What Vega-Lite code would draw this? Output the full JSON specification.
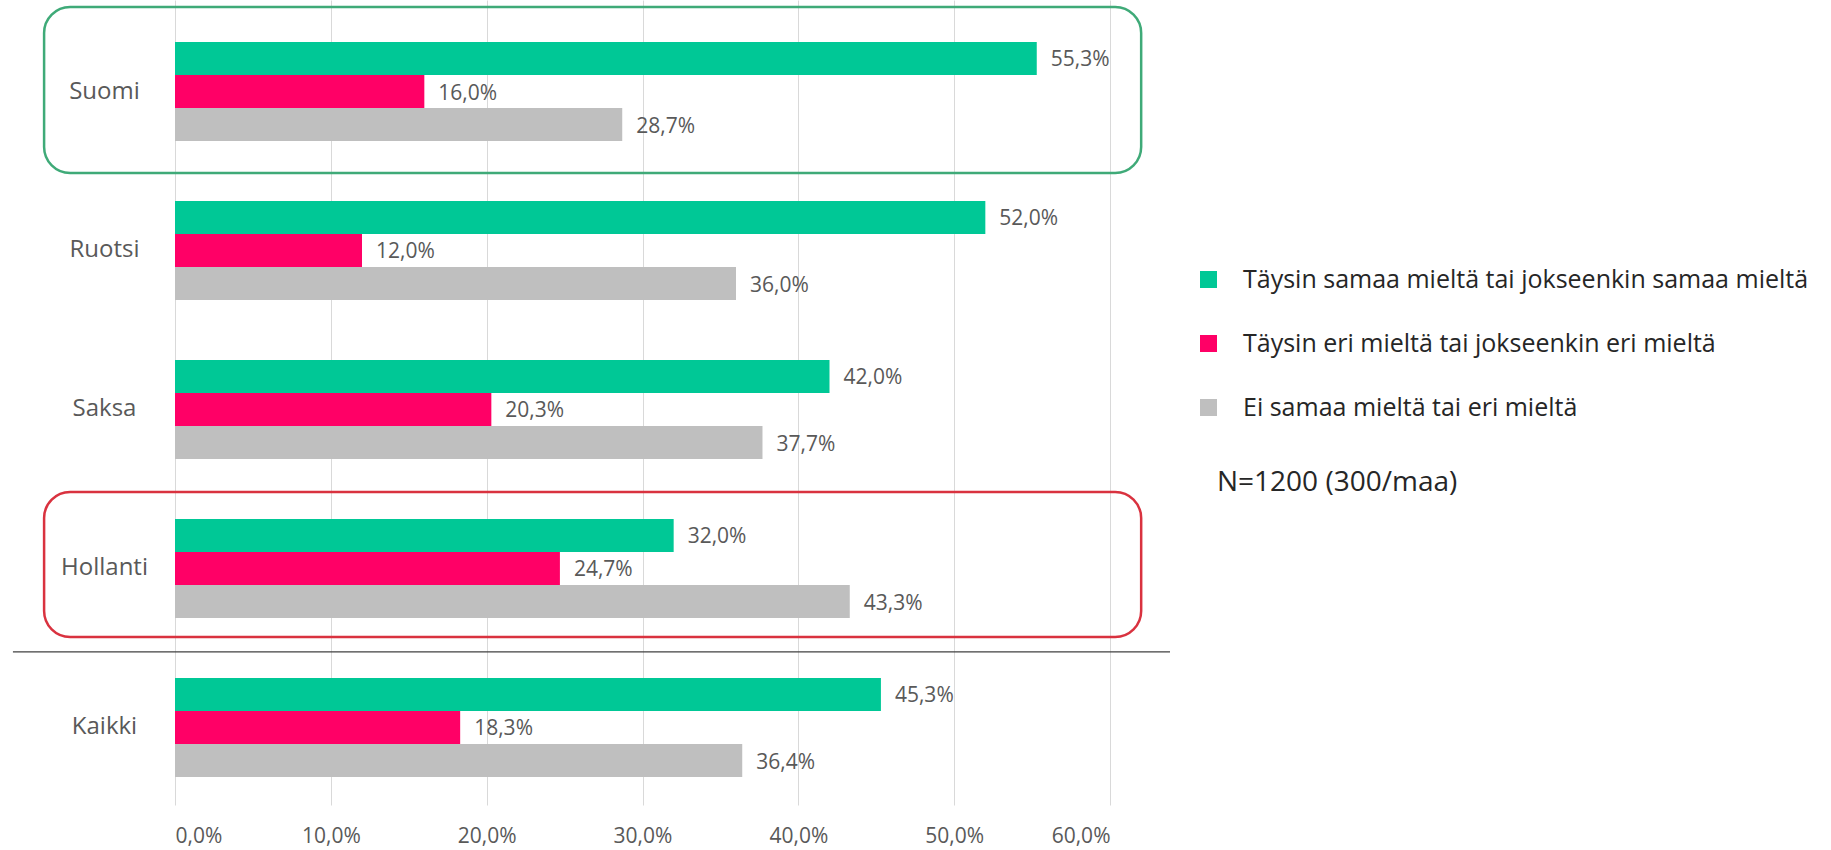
{
  "$schema": "https://vega.github.io/schema/vega-lite/v6.json",
  "autosize": {"type": "none"},
  "width": 935,
  "height": 805,
  "padding": {"left": 175, "top": 0, "right": 721, "bottom": 45},
  "background": "white",
  "config": {
    "font": "Open Sans",
    "view": {"stroke": null},
    "locale": {
      "number": {"decimal": ",", "thousands": " ", "grouping": [3], "currency": ["", " €"], "percent": "%"}
    }
  },
  "datasets": {
    "tulokset": [
      {"maa": "Suomi", "sarja": "Täysin samaa mieltä tai jokseenkin samaa mieltä", "osuus": 0.553},
      {"maa": "Suomi", "sarja": "Täysin eri mieltä tai jokseenkin eri mieltä", "osuus": 0.160},
      {"maa": "Suomi", "sarja": "Ei samaa mieltä tai eri mieltä", "osuus": 0.287},
      {"maa": "Ruotsi", "sarja": "Täysin samaa mieltä tai jokseenkin samaa mieltä", "osuus": 0.520},
      {"maa": "Ruotsi", "sarja": "Täysin eri mieltä tai jokseenkin eri mieltä", "osuus": 0.120},
      {"maa": "Ruotsi", "sarja": "Ei samaa mieltä tai eri mieltä", "osuus": 0.360},
      {"maa": "Saksa", "sarja": "Täysin samaa mieltä tai jokseenkin samaa mieltä", "osuus": 0.420},
      {"maa": "Saksa", "sarja": "Täysin eri mieltä tai jokseenkin eri mieltä", "osuus": 0.203},
      {"maa": "Saksa", "sarja": "Ei samaa mieltä tai eri mieltä", "osuus": 0.377},
      {"maa": "Hollanti", "sarja": "Täysin samaa mieltä tai jokseenkin samaa mieltä", "osuus": 0.320},
      {"maa": "Hollanti", "sarja": "Täysin eri mieltä tai jokseenkin eri mieltä", "osuus": 0.247},
      {"maa": "Hollanti", "sarja": "Ei samaa mieltä tai eri mieltä", "osuus": 0.433},
      {"maa": "Kaikki", "sarja": "Täysin samaa mieltä tai jokseenkin samaa mieltä", "osuus": 0.453},
      {"maa": "Kaikki", "sarja": "Täysin eri mieltä tai jokseenkin eri mieltä", "osuus": 0.183},
      {"maa": "Kaikki", "sarja": "Ei samaa mieltä tai eri mieltä", "osuus": 0.364}
    ]
  },
  "encoding": {
    "y": {
      "field": "maa",
      "type": "nominal",
      "scale": {"domain": ["Suomi", "Ruotsi", "Saksa", "Hollanti", "Kaikki"], "paddingInner": 0.377, "paddingOuter": 0.22, "align": 0.6},
      "axis": {"title": null, "domain": false, "ticks": false, "labelAlign": "center", "labelPadding": 71, "labelFontSize": 24, "labelColor": "#595959", "labelFont": "Open Sans"}
    }
  },
  "layer": [
    {
      "data": {"name": "tulokset"},
      "mark": {"type": "bar"},
      "encoding": {
        "x": {
          "field": "osuus",
          "type": "quantitative",
          "scale": {"domain": [0, 0.6], "nice": false, "zero": true},
          "axis": {"title": null, "values": [0, 0.1, 0.2, 0.3, 0.4, 0.5, 0.6], "format": ".1%", "grid": true, "gridColor": "#D9D9D9", "gridWidth": 1, "domain": false, "ticks": false, "labelPadding": 20, "labelFontSize": 21, "labelColor": "#595959", "labelFont": "Open Sans"}
        },
        "yOffset": {
          "field": "sarja",
          "type": "nominal",
          "scale": {"domain": ["Täysin samaa mieltä tai jokseenkin samaa mieltä", "Täysin eri mieltä tai jokseenkin eri mieltä", "Ei samaa mieltä tai eri mieltä"], "paddingInner": 0, "paddingOuter": 0}
        },
        "color": {
          "field": "sarja",
          "type": "nominal",
          "scale": {"domain": ["Täysin samaa mieltä tai jokseenkin samaa mieltä", "Täysin eri mieltä tai jokseenkin eri mieltä", "Ei samaa mieltä tai eri mieltä"], "range": ["#00C896", "#FF0066", "#BFBFBF"]},
          "legend": {
            "orient": "none",
            "legendX": 1042,
            "legendY": 267,
            "padding": 0,
            "symbolType": "square",
            "symbolSize": 289,
            "symbolStrokeWidth": 0,
            "symbolOffset": -21,
            "labelFontSize": 25,
            "labelColor": "#262626",
            "labelFont": "Open Sans",
            "labelOffset": 22,
            "labelLimit": 800,
            "rowPadding": 38,
            "title": "N=1200 (300/maa)",
            "titleOrient": "bottom",
            "titleAnchor": "start",
            "titlePadding": 48,
            "titleFontSize": 28,
            "titleFontWeight": "normal",
            "titleColor": "#262626",
            "titleFont": "Open Sans",
            "titleLimit": 800
          }
        }
      }
    },
    {
      "data": {"name": "tulokset"},
      "mark": {"type": "text", "align": "left", "baseline": "middle", "dx": 14, "dy": 2, "fontSize": 21, "color": "#595959", "font": "Open Sans"},
      "encoding": {
        "x": {"field": "osuus", "type": "quantitative"},
        "yOffset": {"field": "sarja", "type": "nominal"},
        "text": {"field": "osuus", "type": "quantitative", "format": ".1%"}
      }
    },
    {
      "data": {"values": [{"maa": "Suomi", "alku": -0.084, "loppu": 0.62}]},
      "mark": {"type": "bar", "height": {"band": 1.675}, "yOffset": -1.5, "fill": "transparent", "stroke": "#3FAA78", "strokeWidth": 2.5, "cornerRadius": 26, "clip": false},
      "encoding": {
        "x": {"field": "alku", "type": "quantitative"},
        "x2": {"field": "loppu"}
      }
    },
    {
      "data": {"values": [{"maa": "Hollanti", "alku": -0.084, "loppu": 0.62}]},
      "mark": {"type": "bar", "height": {"band": 1.463}, "yOffset": -4, "fill": "transparent", "stroke": "#D9323F", "strokeWidth": 2.5, "cornerRadius": 26, "clip": false},
      "encoding": {
        "x": {"field": "alku", "type": "quantitative"},
        "x2": {"field": "loppu"}
      }
    },
    {
      "data": {"values": [{"maa": "Kaikki", "alku": -0.104, "loppu": 0.6385}]},
      "mark": {"type": "rule", "color": "#404040", "strokeWidth": 1.2, "yOffset": -26, "clip": false},
      "encoding": {
        "x": {"field": "alku", "type": "quantitative"},
        "x2": {"field": "loppu"},
        "y": {"field": "maa", "type": "nominal", "bandPosition": 0}
      }
    }
  ]
}
